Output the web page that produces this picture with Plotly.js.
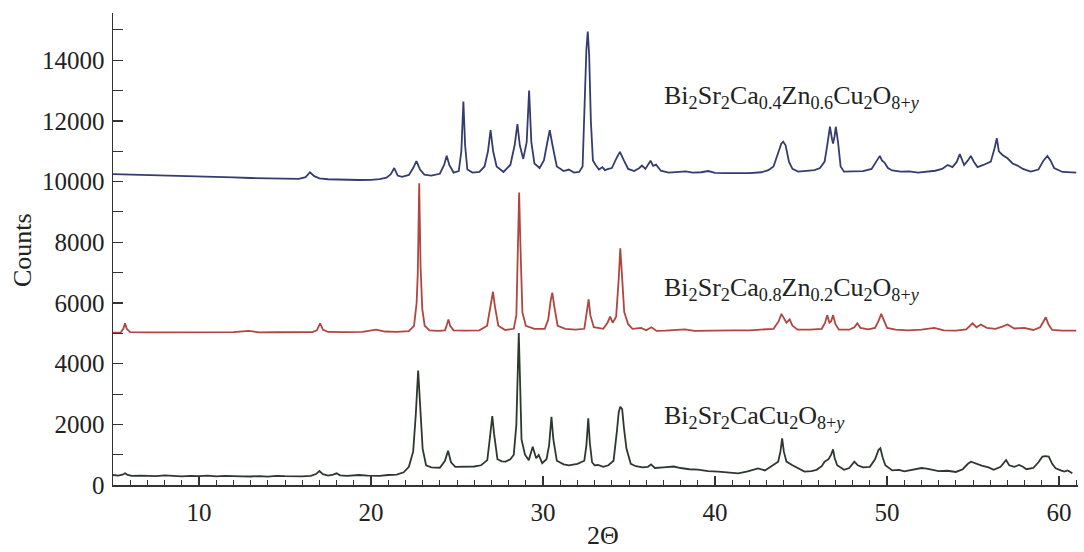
<!DOCTYPE html>
<html>
<head>
<meta charset="utf-8">
<script src="https://cdn.plot.ly/plotly-3.0.1.min.js"></script>
<style>html,body{margin:0;padding:0;background:#fff;}#chart{width:1084px;height:552px;}</style>
</head>
<body>
<div id="chart"></div>
<script>
// Bi2Sr2Ca0.4Zn0.6Cu2O8+y (top, blue)
const xBlue = [5.0,5.8,6.5,7.3,8.0,9.0,10.0,11.0,12.0,13.0,14.0,15.0,15.8,16.2,16.45,16.7,17.0,17.5,18.4,19.3,20.0,20.5,20.9,21.15,21.35,21.55,21.8,22.2,22.45,22.64,22.85,23.1,23.5,24.0,24.25,24.4,24.55,24.8,25.1,25.25,25.37,25.47,25.6,25.9,26.3,26.6,26.8,26.95,27.1,27.3,27.7,28.1,28.35,28.51,28.65,28.85,29.05,29.19,29.32,29.5,29.8,30.05,30.25,30.39,30.55,30.8,31.2,31.5,31.8,32.1,32.3,32.42,32.52,32.6,32.68,32.78,32.9,33.06,33.25,33.45,33.6,33.8,34.0,34.25,34.47,34.7,34.95,35.3,35.6,35.75,35.95,36.25,36.4,36.57,36.85,37.3,37.8,38.3,38.7,39.2,39.6,40.0,40.6,41.3,42.0,42.7,43.1,43.4,43.65,43.85,43.96,44.1,44.3,44.5,44.83,45.3,45.79,46.1,46.37,46.55,46.68,46.8,46.86,46.95,47.02,47.15,47.3,47.5,48.0,48.6,49.1,49.4,49.58,49.7,49.85,50.05,50.3,50.8,51.3,51.8,52.3,52.8,53.2,53.52,53.8,54.05,54.23,54.35,54.48,54.7,54.87,55.05,55.26,55.6,56.03,56.25,56.38,56.5,56.71,57.0,57.3,57.58,57.9,58.35,58.8,59.1,59.32,59.5,59.71,60.2,60.67,61.0];
const yBlue = [10250,10240,10230,10215,10200,10190,10170,10160,10140,10120,10110,10100,10090,10150,10310,10180,10110,10080,10060,10055,10060,10080,10130,10250,10450,10200,10160,10220,10450,10680,10400,10230,10200,10260,10550,10850,10550,10300,10350,11000,12640,11200,10400,10300,10320,10500,11000,11700,11000,10500,10320,10550,11200,11900,11200,10750,11300,13000,11300,10600,10450,10700,11300,11700,11200,10500,10350,10400,10300,10320,10500,12800,14350,14950,14200,12000,10700,10550,10400,10480,10380,10420,10450,10750,10980,10700,10420,10350,10450,10530,10420,10690,10520,10560,10360,10300,10310,10340,10300,10310,10350,10290,10280,10270,10280,10310,10380,10500,10900,11250,11320,11200,10650,10420,10330,10350,10380,10450,10660,11300,11810,11400,11260,11500,11810,11300,10500,10330,10340,10350,10420,10700,10850,10700,10630,10450,10370,10330,10340,10300,10320,10360,10420,10550,10480,10650,10910,10700,10550,10700,10850,10650,10480,10550,10660,11100,11430,11000,10880,10770,10600,10530,10420,10330,10400,10700,10850,10700,10450,10320,10300,10300];

// Bi2Sr2Ca0.8Zn0.2Cu2O8+y (middle, red)
const xRed = [5.0,5.45,5.6,5.7,5.8,6.0,7.0,8.0,9.0,10.0,11.0,12.0,12.9,13.5,14.5,15.2,16.0,16.6,16.85,17.04,17.2,17.5,18.5,19.5,20.3,20.8,21.5,22.2,22.5,22.65,22.72,22.8,22.88,22.98,23.12,23.4,23.9,24.3,24.42,24.5,24.6,24.8,25.5,26.3,26.75,26.95,27.09,27.2,27.4,27.8,28.3,28.45,28.55,28.61,28.68,28.8,29.0,29.5,30.1,30.3,30.45,30.54,30.65,30.85,31.3,31.9,32.4,32.55,32.65,32.75,32.95,33.2,33.5,33.75,33.9,34.05,34.25,34.4,34.49,34.58,34.72,34.95,35.2,35.7,36.0,36.3,36.6,37.1,37.67,38.25,38.8,39.5,40.2,41.0,42.0,42.8,43.4,43.7,43.86,44.0,44.15,44.34,44.5,44.8,45.5,46.2,46.4,46.52,46.65,46.75,46.86,47.0,47.2,47.8,48.1,48.27,48.45,48.9,49.3,49.5,49.66,49.8,50.0,50.5,51.2,52.0,52.75,53.3,54.0,54.6,54.97,55.2,55.45,55.8,56.3,56.7,57.0,57.4,57.97,58.5,58.9,59.1,59.23,59.38,59.6,60.2,60.6,61.0];
const yRed = [5020,5030,5150,5330,5150,5040,5030,5030,5035,5030,5030,5040,5080,5030,5035,5040,5060,5040,5100,5330,5120,5045,5040,5050,5120,5060,5050,5070,5250,6000,7000,9950,7200,5800,5250,5100,5080,5100,5300,5460,5250,5100,5090,5100,5250,5900,6370,5900,5250,5110,5150,5600,8500,9640,8000,5700,5250,5150,5150,5450,6100,6340,5900,5250,5150,5120,5150,5700,6120,5600,5200,5180,5150,5350,5550,5350,5550,6800,7800,7000,5700,5300,5150,5180,5100,5200,5080,5090,5110,5130,5080,5090,5110,5100,5100,5120,5150,5400,5640,5500,5350,5460,5250,5120,5120,5150,5350,5600,5350,5400,5600,5300,5120,5120,5200,5330,5180,5130,5180,5400,5640,5450,5180,5120,5100,5120,5180,5100,5090,5130,5330,5200,5290,5180,5150,5220,5290,5160,5180,5110,5200,5400,5530,5300,5110,5090,5080,5090];

// Bi2Sr2CaCu2O8+y (bottom, black)
const xBlack = [5.0,5.3,5.55,5.7,5.85,6.1,6.6,7.0,7.5,8.0,8.5,9.0,9.5,10.0,10.5,11.0,11.5,12.0,12.5,13.0,13.5,14.0,14.5,15.0,15.5,16.0,16.5,16.8,17.0,17.2,17.5,17.8,18.0,18.2,18.6,19.0,19.3,19.8,20.5,21.0,21.5,21.9,22.2,22.45,22.6,22.74,22.85,23.0,23.2,23.5,24.0,24.3,24.48,24.65,24.9,25.5,26.0,26.4,26.76,26.92,27.05,27.15,27.35,27.6,27.82,28.1,28.3,28.45,28.52,28.59,28.66,28.75,28.95,29.17,29.4,29.6,29.75,29.95,30.2,30.35,30.49,30.6,30.8,31.2,31.5,32.0,32.4,32.52,32.63,32.72,32.85,33.0,33.19,33.5,33.8,34.1,34.3,34.4,34.49,34.6,34.7,34.85,35.1,35.4,35.8,36.1,36.28,36.5,37.0,37.6,38.0,38.5,39.0,39.6,40.2,40.8,41.35,41.9,42.5,42.9,43.3,43.67,43.8,43.9,44.0,44.15,44.5,44.9,45.2,45.6,45.9,46.2,46.37,46.6,46.75,46.86,46.95,47.1,47.5,47.8,48.1,48.3,48.6,49.0,49.3,49.5,49.61,49.75,49.9,50.3,50.7,51.0,51.5,52.0,52.3,52.7,53.0,53.5,54.0,54.4,54.7,54.88,55.2,55.5,55.9,56.2,56.6,56.92,57.1,57.4,57.67,57.9,58.1,58.5,58.8,59.03,59.2,59.4,59.6,59.8,60.1,60.3,60.5,60.77];
const yBlack = [330,310,340,385,330,300,310,300,290,320,310,285,300,290,310,285,300,305,285,280,295,275,300,290,280,285,300,360,460,360,310,340,385,320,300,320,330,310,300,330,340,420,600,1100,2300,3770,2700,1200,650,580,570,800,1130,750,600,600,610,650,820,1600,2275,1700,850,780,770,850,1000,2000,3800,5010,3500,1500,1000,820,1260,880,990,720,850,1300,2250,1500,800,680,650,700,800,1300,2200,1400,750,650,660,600,650,800,1800,2400,2580,2500,1900,1200,700,620,580,600,680,560,580,610,560,520,510,460,440,420,385,450,550,480,620,770,1100,1540,1100,770,650,520,440,460,500,620,770,850,1000,1175,900,650,500,560,770,650,580,600,850,1150,1210,900,650,480,500,450,500,560,540,500,460,470,430,520,700,770,690,640,580,500,600,825,650,600,660,600,520,560,750,935,950,935,700,550,480,440,480,385];

const seriesNames = ['Bi<sub>2</sub>Sr<sub>2</sub>Ca<sub>0.4</sub>Zn<sub>0.6</sub>Cu<sub>2</sub>O<sub>8+<i>y</i></sub>',
                     'Bi<sub>2</sub>Sr<sub>2</sub>Ca<sub>0.8</sub>Zn<sub>0.2</sub>Cu<sub>2</sub>O<sub>8+<i>y</i></sub>',
                     'Bi<sub>2</sub>Sr<sub>2</sub>CaCu<sub>2</sub>O<sub>8+<i>y</i></sub>'];
const xTitle = '2Θ';
const yTitle = 'Counts';

const FONT = 'Liberation Serif, Times New Roman, serif';
const traces = [
  {x: xBlue, y: yBlue, name: seriesNames[0], mode: 'lines', line: {color: '#343d6e', width: 1.8}},
  {x: xRed, y: yRed, name: seriesNames[1], mode: 'lines', line: {color: '#b0463f', width: 1.8}},
  {x: xBlack, y: yBlack, name: seriesNames[2], mode: 'lines', line: {color: '#2e382f', width: 1.8}}
];

const layout = {
  width: 1084, height: 552,
  margin: {l: 113, r: 6, t: 13, b: 67},
  paper_bgcolor: '#fff', plot_bgcolor: '#fff',
  showlegend: false,
  font: {family: FONT, size: 25, color: '#222'},
  xaxis: {
    range: [5, 61.1], showgrid: false, zeroline: false,
    showline: true, linecolor: '#333', linewidth: 1.5,
    ticks: 'inside', ticklen: 9, tickwidth: 1.3, tickcolor: '#333',
    dtick: 10, tick0: 0, ticklabelstandoff: 4,
    minor: {dtick: 1, tick0: 0, ticks: 'inside', ticklen: 5, tickwidth: 1, tickcolor: '#333'},
    tickfont: {family: FONT, size: 25, color: '#222'}
  },
  yaxis: {
    range: [0, 15560], showgrid: false, zeroline: false,
    showline: true, linecolor: '#333', linewidth: 1.5,
    ticks: 'inside', ticklen: 10, tickwidth: 1.3, tickcolor: '#333',
    dtick: 2000, tick0: 0, ticklabelstandoff: 2, tickformat: 'd',
    minor: {dtick: 1000, tick0: 0, ticks: 'inside', ticklen: 10, tickwidth: 1, tickcolor: '#333'},
    tickfont: {family: FONT, size: 25, color: '#222'}
  },
  annotations: [
    {text: seriesNames[0], xref: 'paper', yref: 'paper', x: 0.569, y: (485-97)/472, xanchor: 'left', yanchor: 'middle', showarrow: false, font: {family: FONT, size: 26, color: '#222'}},
    {text: seriesNames[1], xref: 'paper', yref: 'paper', x: 0.569, y: (485-289)/472, xanchor: 'left', yanchor: 'middle', showarrow: false, font: {family: FONT, size: 26, color: '#222'}},
    {text: seriesNames[2], xref: 'paper', yref: 'paper', x: 0.569, y: (485-417)/472, xanchor: 'left', yanchor: 'middle', showarrow: false, font: {family: FONT, size: 26, color: '#222'}},
    {text: xTitle, xref: 'paper', yref: 'paper', x: (603-113)/965, y: -67/472, xanchor: 'center', yanchor: 'bottom', showarrow: false, font: {family: FONT, size: 26, color: '#222'}},
    {text: yTitle, xref: 'paper', yref: 'paper', x: (22-113)/965, y: (485-250)/472, xanchor: 'center', yanchor: 'middle', textangle: -90, showarrow: false, font: {family: FONT, size: 26, color: '#222'}}
  ]
};

Plotly.newPlot('chart', traces, layout, {displayModeBar: false, staticPlot: true});
</script>
</body>
</html>
